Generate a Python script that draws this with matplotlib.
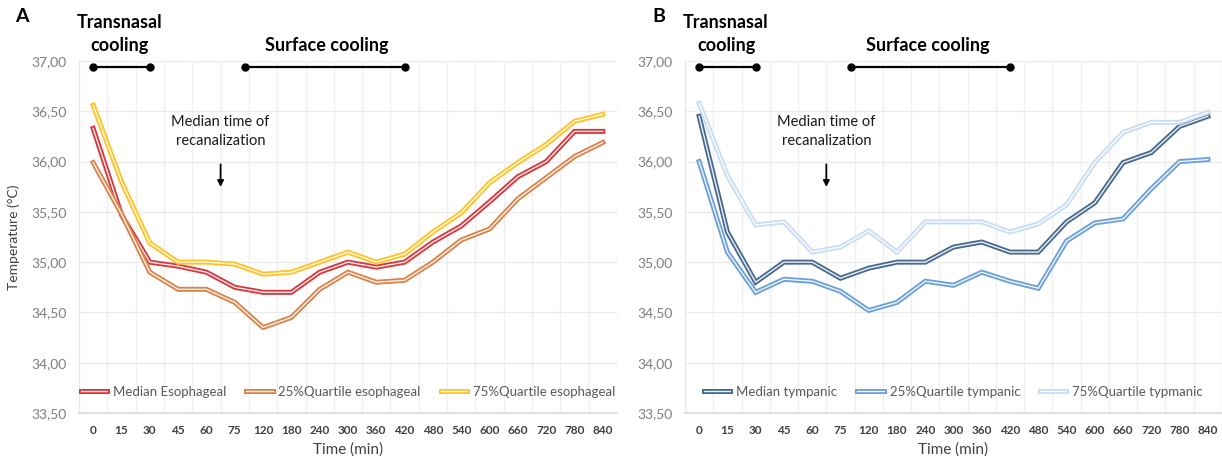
import matplotlib
matplotlib.use("Agg")
import matplotlib.pyplot as plt
import matplotlib.patheffects as pe
from matplotlib.ticker import FuncFormatter, FixedLocator

# ---------------- data ----------------
times = ['0', '15', '30', '45', '60', '75', '120', '180', '240', '300', '360',
         '420', '480', '540', '600', '660', '720', '780', '840']

eso_median = [36.33, 35.47, 35.00, 34.96, 34.90, 34.75, 34.70, 34.70, 34.90, 35.00,
              34.95, 35.00, 35.20, 35.36, 35.60, 35.85, 36.00, 36.30, 36.30]
eso_q25 = [35.99, 35.48, 34.90, 34.73, 34.73, 34.60, 34.35, 34.45, 34.73, 34.90,
           34.80, 34.82, 35.00, 35.22, 35.33, 35.63, 35.84, 36.05, 36.19]
eso_q75 = [36.56, 35.80, 35.19, 35.00, 35.00, 34.98, 34.88, 34.90, 35.00, 35.10,
           35.00, 35.08, 35.30, 35.49, 35.79, 35.99, 36.17, 36.40, 36.47]

tymp_median = [36.45, 35.30, 34.80, 35.00, 35.00, 34.84, 34.94, 35.00, 35.00, 35.15,
               35.20, 35.10, 35.10, 35.40, 35.59, 35.99, 36.09, 36.35, 36.45]
tymp_q25 = [36.00, 35.10, 34.70, 34.83, 34.81, 34.71, 34.52, 34.60, 34.81, 34.77,
            34.90, 34.81, 34.74, 35.21, 35.39, 35.43, 35.73, 36.00, 36.02]
tymp_q75 = [36.58, 35.86, 35.37, 35.40, 35.10, 35.15, 35.31, 35.10, 35.40, 35.40,
            35.40, 35.30, 35.38, 35.57, 35.99, 36.29, 36.39, 36.39, 36.49]

eso_labels = ['Median Esophageal', '25%Quartile esophageal', '75%Quartile esophageal']
tymp_labels = ['Median tympanic', '25%Quartile tympanic', '75%Quartile typmanic']
eso_colors = ['#D6363C', '#D9834A', '#FFC326']
tymp_colors = ['#46698F', '#6A9FD8', '#C9DDF2']

# phase markers (category index positions) and annotation
transnasal_span = (0, 2)
surface_span = (5.37, 11.0)
recan_pos = 4.5

W, H = 1222, 468
plt.rcParams['font.family'] = ['Lato', 'DejaVu Sans']
fig = plt.figure(figsize=(W / 100, H / 100), dpi=100)


def px(x, y):
    return x / W, 1 - y / H


axA = fig.add_axes([79 / W, 1 - 413 / H, 538 / W, 352 / H])
axB = fig.add_axes([685 / W, 1 - 413 / H, 537 / W, 352 / H])

OUT_LW = 3.6
IN_LW = 1.0

for ax, series, labels, colors in [
        (axA, [eso_median, eso_q25, eso_q75], eso_labels, eso_colors),
        (axB, [tymp_median, tymp_q25, tymp_q75], tymp_labels, tymp_colors)]:
    x = list(range(len(times)))
    for vals, lab, col in zip(series, labels, colors):
        ax.plot(x, vals, color='#FFFFFF', lw=IN_LW, alpha=0.9, label=lab,
                solid_joinstyle='miter', zorder=3,
                path_effects=[pe.Stroke(linewidth=OUT_LW, foreground=col, alpha=1.0),
                              pe.Normal()])
    ax.set_xlim(-0.5, len(times) - 0.5)
    ax.set_ylim(33.5, 37.0)
    ax.yaxis.set_major_locator(FixedLocator([33.5 + 0.5 * i for i in range(8)]))
    ax.yaxis.set_major_formatter(FuncFormatter(lambda v, p: f'{v:.2f}'.replace('.', ',')))
    ax.set_xticks(x)
    ax.set_xticklabels(times, fontsize=8.5, fontweight='bold', color='#404040')
    ax.set_xticks([i - 0.5 for i in range(len(times) + 1)], minor=True)
    ax.tick_params(axis='x', which='both', length=0, pad=9)
    ax.tick_params(axis='y', length=0, labelsize=10, labelcolor='#7F7F7F', pad=9)
    ax.grid(axis='y', which='major', color='#EBEBEB', lw=0.9)
    ax.grid(axis='x', which='minor', color='#EFEFEF', lw=0.9)
    ax.set_axisbelow(True)
    for s in ['top', 'right']:
        ax.spines[s].set_visible(False)
    ax.spines['left'].set_color('#E6E6E6')
    ax.spines['bottom'].set_color('#D9D9D9')
    ax.spines['bottom'].set_linewidth(1.2)
    ax.set_xlabel('Time (min)', fontsize=11, color='#404040', labelpad=4)
    leg = ax.legend(loc='center', bbox_to_anchor=(0.5, 0.06), ncol=3, frameon=False,
                    fontsize=9.5, handlelength=2.0, columnspacing=1.5, handletextpad=0.45)
    for t in leg.get_texts():
        t.set_color('#595959')

    # phase bars
    yb = 36.94
    for (a, b) in [transnasal_span, surface_span]:
        ax.plot([a, b], [yb, yb], color='black', lw=1.6, marker='o', ms=5,
                clip_on=False, zorder=5)
    # recanalization annotation
    ax.text(recan_pos, 36.30, 'Median time of\nrecanalization', ha='center', va='center',
            fontsize=10.5, color='#1a1a1a', linespacing=1.4)
    ax.annotate('', xy=(recan_pos, 35.72), xytext=(recan_pos, 36.0),
                arrowprops=dict(arrowstyle='-|>', color='black', lw=1.3,
                                mutation_scale=9))

axA.set_ylabel('Temperature (°C)', fontsize=10, color='#404040', labelpad=8)

# panel titles
for (xl, xt, xs, letter) in [(15, 120, 327, 'A'), (652, 726, 928, 'B')]:
    fig.text(*px(xl, 17), letter, fontsize=14, fontweight='bold', ha='left', va='center')
    fig.text(*px(xt, 22), 'Transnasal', fontsize=13, fontweight='bold', ha='center', va='center')
    fig.text(*px(xt, 46), 'cooling', fontsize=13, fontweight='bold', ha='center', va='center')
    fig.text(*px(xs, 46), 'Surface cooling', fontsize=13, fontweight='bold', ha='center',
             va='center')

fig.savefig('out.png', dpi=100)
